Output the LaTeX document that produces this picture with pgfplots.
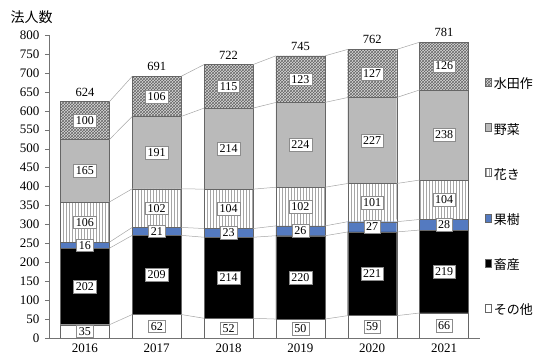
\documentclass[border=0pt]{standalone}
\usepackage{fontspec}
\setmainfont{Liberation Serif}
\newfontfamily\jp{Noto Sans CJK JP}
\usepackage{pgfplots}
\pgfplotsset{compat=1.18}
\usetikzlibrary{patterns}
\definecolor{kaju}{RGB}{84,122,192}
\begin{document}
\begin{tikzpicture}
\path[use as bounding box] (0pt,0pt) rectangle (539pt,358pt);
\pgfplotsset{base/.style={
  scale only axis, width=431pt, height=303pt,
  at={(49pt,20pt)}, anchor=south west,
  xmin=-0.5, xmax=5.5, ymin=0, ymax=800,
}}
\begin{axis}[base, ybar stacked, bar width=49pt,
  axis x line*=bottom, axis y line*=left,
  axis line style={black!55},
  ytick={0,50,...,800}, xtick={0,1,2,3,4,5},
  xticklabels={2016,2017,2018,2019,2020,2021},
  tick label style={font=\fontsize{13}{13}\selectfont},
  /pgf/number format/assume math mode=true,
  ytick style={black!55}, tick align=outside, major tick length=4pt,
  xtick style={draw=none},
  yticklabel style={xshift=-2pt},
  xticklabel style={inner sep=2pt},
  reverse legend,
  legend style={at={(1.005,0.872)}, anchor=north west, draw=none, fill=none,
    font=\jp\fontsize{13}{13}\selectfont, row sep=28.8pt},
  legend cell align=left,
]
\addplot[fill=white, draw=black!60] coordinates {(0,35)(1,62)(2,52)(3,50)(4,59)(5,66)};
\addlegendentry{その他}
\addplot[fill=black, draw=black!60] coordinates {(0,202)(1,209)(2,214)(3,220)(4,221)(5,219)};
\addlegendentry{畜産}
\addplot[fill=kaju, draw=black!60] coordinates {(0,16)(1,21)(2,23)(3,26)(4,27)(5,28)};
\addlegendentry{果樹}
\addplot[fill=white, draw=black!60, postaction={pattern=vertical lines, pattern color=black!35}] coordinates {(0,106)(1,102)(2,104)(3,102)(4,101)(5,104)};
\addlegendentry{花き}
\addplot[fill=black!27, draw=black!60] coordinates {(0,165)(1,191)(2,214)(3,224)(4,227)(5,238)};
\addlegendentry{野菜}
\addplot[fill=black!15, draw=black!60, postaction={pattern=crosshatch, pattern color=black!60}] coordinates {(0,100)(1,106)(2,115)(3,123)(4,127)(5,126)};
\addlegendentry{水田作}
\end{axis}
\begin{axis}[base, axis lines=none, unbounded coords=jump, clip=false]
\addplot[black!35, line width=0.5pt, no marks] coordinates {(0.341,35)(0.659,62)(1,nan)(1.341,62)(1.659,52)(2,nan)(2.341,52)(2.659,50)(3,nan)(3.341,50)(3.659,59)(4,nan)(4.341,59)(4.659,66)};
\addplot[black!35, line width=0.5pt, no marks] coordinates {(0.341,237)(0.659,271)(1,nan)(1.341,271)(1.659,266)(2,nan)(2.341,266)(2.659,270)(3,nan)(3.341,270)(3.659,280)(4,nan)(4.341,280)(4.659,285)};
\addplot[black!35, line width=0.5pt, no marks] coordinates {(0.341,253)(0.659,292)(1,nan)(1.341,292)(1.659,289)(2,nan)(2.341,289)(2.659,296)(3,nan)(3.341,296)(3.659,307)(4,nan)(4.341,307)(4.659,313)};
\addplot[black!35, line width=0.5pt, no marks] coordinates {(0.341,359)(0.659,394)(1,nan)(1.341,394)(1.659,393)(2,nan)(2.341,393)(2.659,398)(3,nan)(3.341,398)(3.659,408)(4,nan)(4.341,408)(4.659,417)};
\addplot[black!35, line width=0.5pt, no marks] coordinates {(0.341,524)(0.659,585)(1,nan)(1.341,585)(1.659,607)(2,nan)(2.341,607)(2.659,622)(3,nan)(3.341,622)(3.659,635)(4,nan)(4.341,635)(4.659,655)};
\addplot[black!35, line width=0.5pt, no marks] coordinates {(0.341,624)(0.659,691)(1,nan)(1.341,691)(1.659,722)(2,nan)(2.341,722)(2.659,745)(3,nan)(3.341,745)(3.659,762)(4,nan)(4.341,762)(4.659,781)};
\addplot[only marks, mark=none, nodes near coords, point meta=explicit symbolic,
  every node near coord/.append style={anchor=center, fill=white, draw=black!45,
  inner sep=2.3pt, font=\fontsize{12}{12}\selectfont}] table[meta=l] {
x y l
0 17.5 35
0 136 202
0 245 16
0 306 106
0 441.5 165
0 574 100
1 31 62
1 166.5 209
1 281.5 21
1 343 102
1 489.5 191
1 638 106
2 26 52
2 159 214
2 277.5 23
2 341 104
2 500 214
2 664.5 115
3 25 50
3 160 220
3 283 26
3 347 102
3 510 224
3 683.5 123
4 29.5 59
4 169.5 221
4 293.5 27
4 357.5 101
4 521.5 227
4 698.5 127
5 33 66
5 175.5 219
5 299 28
5 365 104
5 536 238
5 718 126
};
\addplot[only marks, mark=none, nodes near coords, point meta=explicit symbolic,
  every node near coord/.append style={anchor=south, yshift=2pt, font=\fontsize{12.5}{12.5}\selectfont}] table[meta=l] {
x y l
0 624 624
1 691 691
2 722 722
3 745 745
4 762 762
5 781 781
};
\end{axis}
\node[anchor=west, font=\jp\fontsize{14}{14}\selectfont] at (7pt,341pt) {法人数};
\end{tikzpicture}
\end{document}
